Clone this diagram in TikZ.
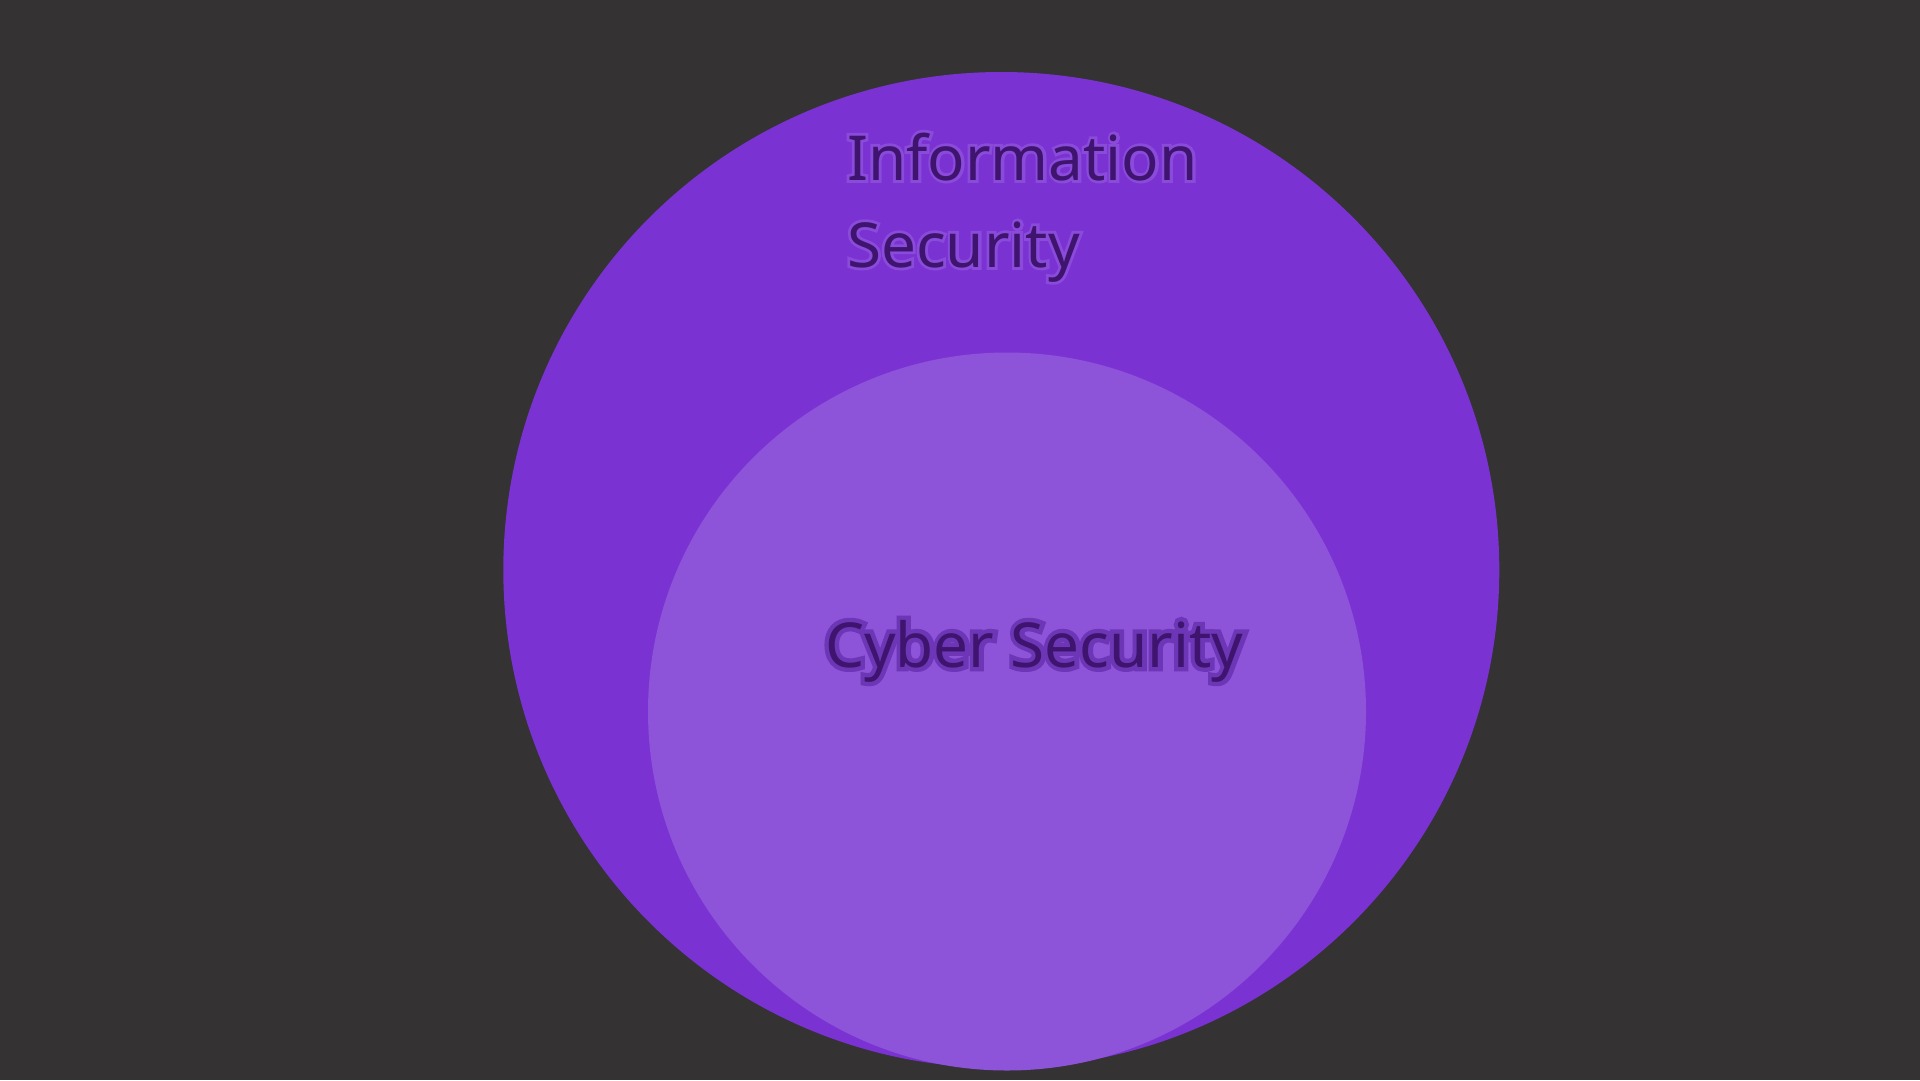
\documentclass[tikz,border=0pt]{standalone}
\usepackage{fontspec}
\setmainfont{Noto Sans}
\newfontfamily\haloA[FakeBold=9]{Noto Sans}
\newfontfamily\haloB[FakeBold=14]{Noto Sans}
\definecolor{bgc}{HTML}{343233}
\definecolor{outerc}{HTML}{7B32D3}
\definecolor{innerc}{HTML}{8D53D8}
\definecolor{textc}{HTML}{3E146E}
\definecolor{haloa}{HTML}{8A4ADA}
\definecolor{halob}{HTML}{6C36B6}
\tikzset{
  lbl/.style={inner sep=0pt, outer sep=0pt, align=left, font=\fontsize{62}{87}\selectfont},
}
\begin{document}
\begin{tikzpicture}[x=1pt,y=-1pt]
\useasboundingbox (0,0) rectangle (1920,1080);
\fill[bgc] (0,0) rectangle (1920,1080);
\node[circle, fill=outerc, inner sep=0pt, minimum size=996pt] (outer) at (1001.3,570) {};
\node[circle, fill=innerc, inner sep=0pt, minimum size=718pt] (inner) at (1007,711.5) {};
\node[lbl, text=haloa, anchor=base west] (infohalo) at (847,267) {\haloA Information\\\haloA Security};
\node[lbl, text=textc, anchor=base west] (info) at (847,267) {Information\\Security};
\node[lbl, text=halob, anchor=base west] (cyberhalo) at (825,667) {\haloB Cyber Security};
\node[lbl, text=textc, anchor=base west] (cyber) at (825,667) {Cyber Security};
\end{tikzpicture}
\end{document}
